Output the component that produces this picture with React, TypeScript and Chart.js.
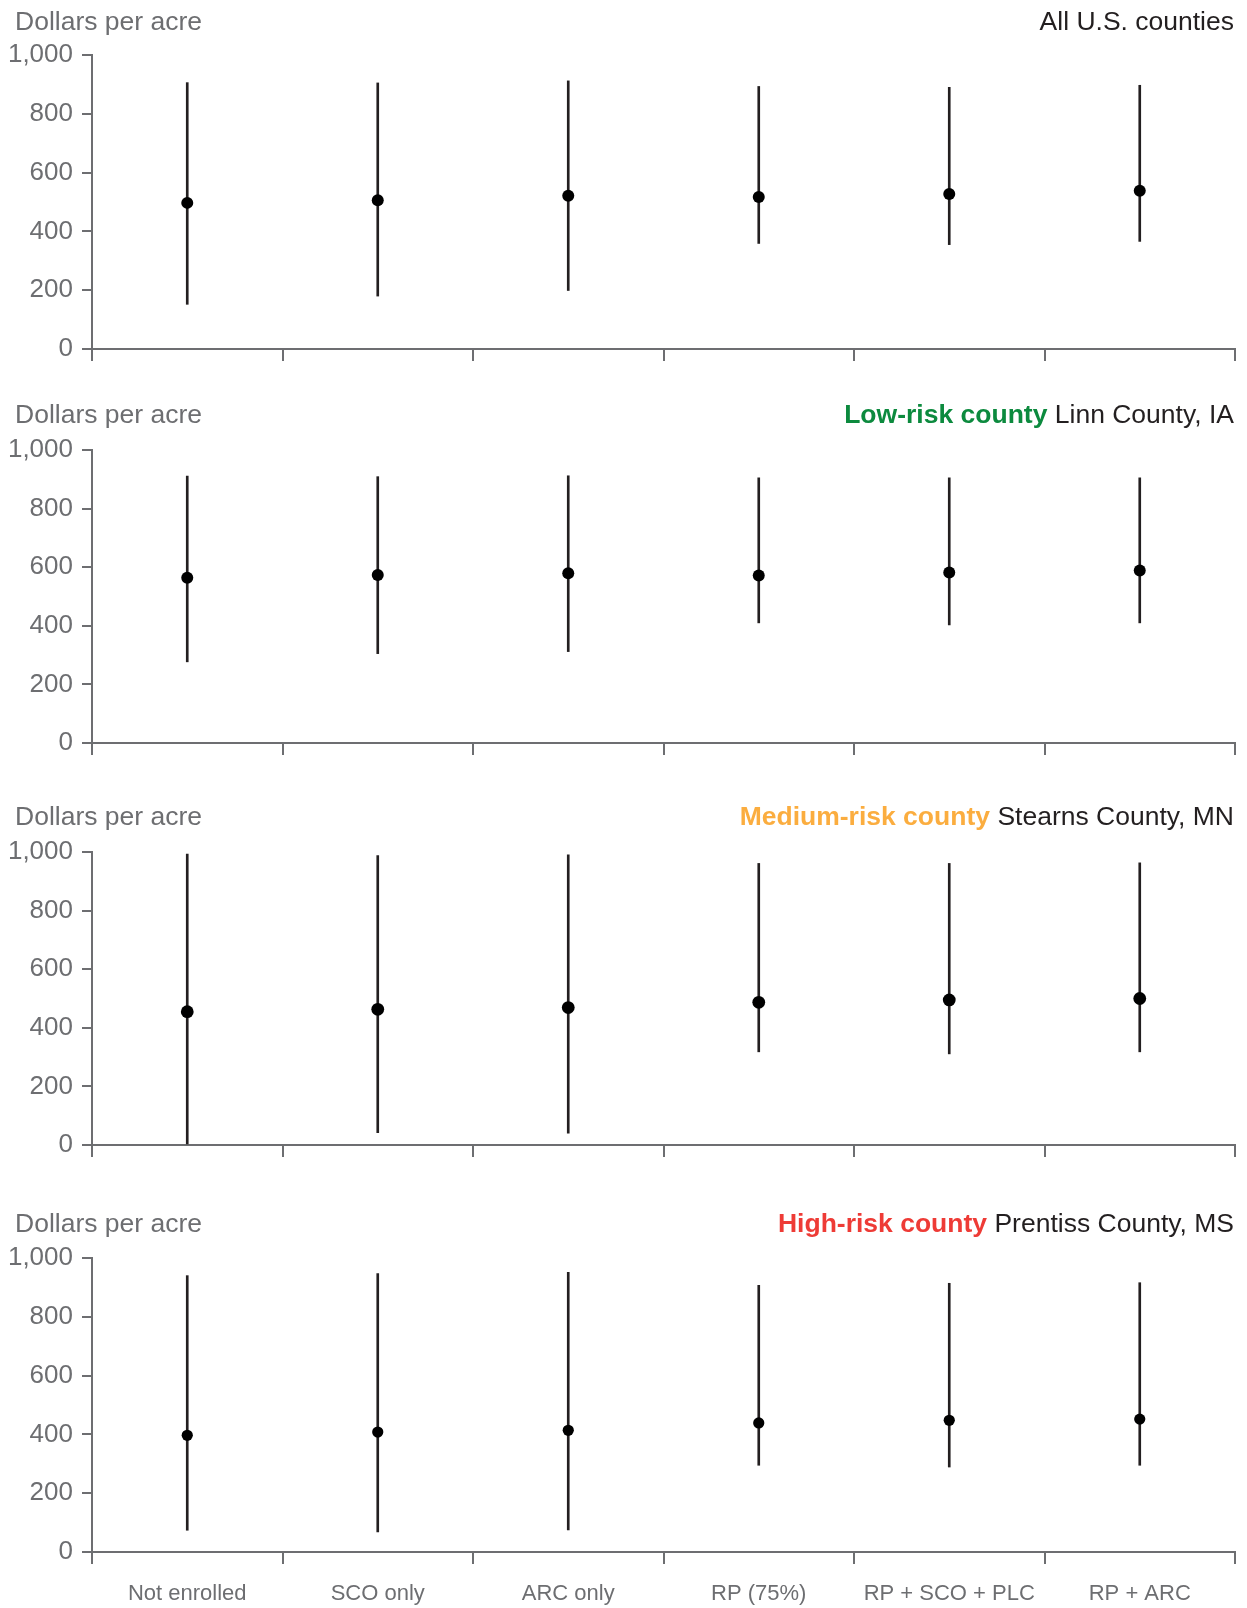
import React, { useEffect, useRef } from "react";
import { Chart, registerables } from "chart.js";

Chart.register(...registerables);

// ---------- data ----------
const categories = ["Not enrolled", "SCO only", "ARC only", "RP (75%)", "RP + SCO + PLC", "RP + ARC"];
const yTickValues = [0, 200, 400, 600, 800, 1000];
const yAxisTitle = "Dollars per acre";

const allMid = [497, 506, 521, 517, 527, 538];
const allLow = [152, 180, 199, 359, 355, 366];
const allHigh = [906, 905, 912, 893, 890, 897];

const linnMid = [564, 573, 579, 572, 582, 589];
const linnLow = [277, 305, 312, 410, 403, 410];
const linnHigh = [911, 909, 912, 905, 905, 905];

const stearnsMid = [455, 463, 469, 487, 495, 500];
const stearnsLow = [0, 42, 40, 318, 311, 318];
const stearnsHigh = [993, 988, 990, 961, 961, 963];

const prentissMid = [397, 408, 414, 439, 448, 452];
const prentissLow = [74, 68, 75, 295, 289, 295];
const prentissHigh = [940, 947, 951, 907, 914, 916];

const panelLeads = ["", "Low-risk county", "Medium-risk county", "High-risk county"];
const panelPlaces = ["All U.S. counties", "Linn County, IA", "Stearns County, MN", "Prentiss County, MS"];

// ---------- styles / layout ----------
const GRAY = "#6d6e71";
const INK = "#231f20";
const LEAD_COLORS = ["", "#0c8a3e", "#fbad3f", "#ee3b36"];
const FONT = "'Liberation Sans', Arial, Helvetica, sans-serif";

const W = 1247;
const PAD_TOP = 26;
const layout = [
  { areaTop: 55, areaH: 294, xh: 26, baseline: 30, r: 6, labels: false },
  { areaTop: 450, areaH: 293, xh: 26, baseline: 423, r: 6, labels: false },
  { areaTop: 852, areaH: 293, xh: 26, baseline: 825, r: 6.4, labels: false },
  { areaTop: 1258, areaH: 294, xh: 56, baseline: 1232, r: 5.6, labels: true },
];

const series = [
  { mid: allMid, low: allLow, high: allHigh },
  { mid: linnMid, low: linnLow, high: linnHigh },
  { mid: stearnsMid, low: stearnsLow, high: stearnsHigh },
  { mid: prentissMid, low: prentissLow, high: prentissHigh },
];

function Panel({ idx }: { idx: number }) {
  const ref = useRef<HTMLCanvasElement | null>(null);
  const L = layout[idx];
  const S = series[idx];
  const height = PAD_TOP + L.areaH + L.xh;

  useEffect(() => {
    if (!ref.current) return;
    const chart = new Chart(ref.current, {
      type: "bar",
      data: {
        labels: categories,
        datasets: [
          {
            type: "line",
            data: S.mid,
            showLine: false,
            pointRadius: L.r,
            pointHoverRadius: L.r,
            pointBackgroundColor: "#000",
            pointBorderWidth: 0,
            borderWidth: 0,
            order: 1,
          } as any,
          {
            type: "bar",
            data: S.low.map((lo, i) => [lo, S.high[i]]),
            backgroundColor: INK,
            borderWidth: 0,
            barThickness: 2,
            order: 2,
          } as any,
        ],
      },
      options: {
        responsive: false,
        animation: false,
        events: [],
        layout: { padding: { top: PAD_TOP, right: 12, left: 0, bottom: 0 } },
        plugins: { legend: { display: false }, tooltip: { enabled: false }, title: { display: false } },
        scales: {
          x: {
            type: "category",
            offset: true,
            grid: {
              offset: true,
              drawOnChartArea: false,
              drawTicks: true,
              tickLength: 12,
              color: GRAY,
              lineWidth: 2,
            },
            border: { display: true, color: GRAY, width: 2 },
            ticks: {
              display: L.labels,
              color: GRAY,
              font: { family: FONT, size: 22 },
              padding: 17,
              maxRotation: 0,
              autoSkip: false,
            },
            afterFit: (s: any) => {
              s.height = L.xh;
            },
          },
          y: {
            min: 0,
            max: 1000,
            afterBuildTicks: (s: any) => {
              s.ticks = yTickValues.map((v) => ({ value: v }));
            },
            ticks: {
              color: GRAY,
              font: { family: FONT, size: 26 },
              padding: 9,
              callback: (v: any) => Number(v).toLocaleString("en-US"),
            },
            grid: { drawOnChartArea: false, drawTicks: true, tickLength: 10, color: GRAY, lineWidth: 2 },
            border: { display: true, color: GRAY, width: 2 },
            afterFit: (s: any) => {
              s.width = 92;
            },
          },
        },
      } as any,
    });
    return () => chart.destroy();
  }, []);

  const titleTop = L.baseline - 22;
  return (
    <>
      <canvas
        ref={ref}
        width={W}
        height={height}
        style={{ position: "absolute", left: 0, top: L.areaTop - PAD_TOP, width: W, height, display: "block" }}
      />
      <div
        style={{
          position: "absolute",
          left: 15,
          top: titleTop,
          font: `26.5px ${FONT}`,
          lineHeight: "26px",
          color: GRAY,
          whiteSpace: "nowrap",
        }}
      >
        {yAxisTitle}
      </div>
      <div
        style={{
          position: "absolute",
          right: W - 1234,
          top: titleTop,
          font: `26.5px ${FONT}`,
          lineHeight: "26px",
          color: INK,
          whiteSpace: "nowrap",
        }}
      >
        {panelLeads[idx] ? (
          <span style={{ color: LEAD_COLORS[idx], fontWeight: 700 }}>{panelLeads[idx]} </span>
        ) : null}
        {panelPlaces[idx]}
      </div>
    </>
  );
}

export default function App() {
  return (
    <div
      style={{
        position: "absolute",
        left: 0,
        top: 0,
        width: W,
        height: 1608,
        background: "#fff",
        overflow: "hidden",
      }}
    >
      {layout.map((_, i) => (
        <Panel key={i} idx={i} />
      ))}
    </div>
  );
}
